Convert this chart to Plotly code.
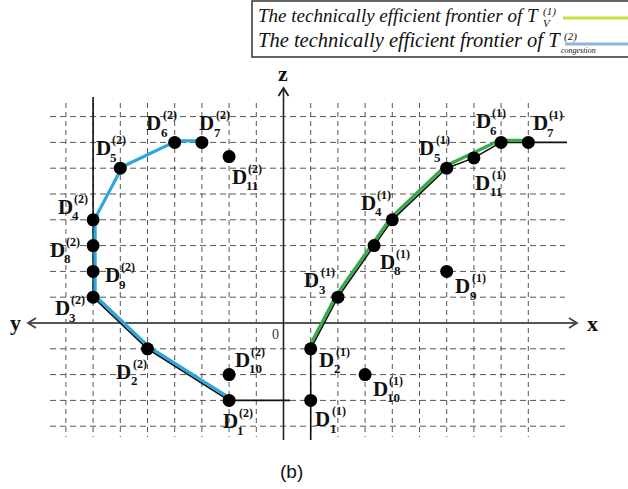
import plotly.graph_objects as go

# ---------------- data ----------------
dmu_ids = ["1", "2", "3", "4", "5", "6", "7", "8", "9", "10", "11"]

# Technology T_V^(1): DMUs in the (x, z) half-plane
t1_x = [1, 1, 2, 4, 6, 8, 9, 3.33, 6, 3, 7]
t1_z = [-3, -1, 1, 4, 6, 7, 7, 3, 2, -2, 6.4]

# Technology T_congestion^(2): DMUs in the (y, z) half-plane (y points left)
t2_y = [2, 5, 7, 7, 6, 4, 3, 7, 7, 2, 2]
t2_z = [-3, -1, 1, 4, 6, 7, 7, 3, 2, -2, 6.45]

# DMU order along each frontier
front1_colored = ["2", "3", "8", "4", "5", "6", "7"]
front1_black = ["2", "3", "8", "4", "5", "11", "6", "7"]
front2_colored = ["1", "2", "3", "9", "8", "4", "5", "6", "7"]
front2_black = ["3", "2", "1"]

grid_u = list(range(-8, 10))   # vertical dashed lines
grid_v = list(range(-4, 9))    # horizontal dashed lines

legend_text = "The technically efficient frontier of T"

# ---------------- geometry ----------------
W, H = 628, 489
SX, SY = 27.2, 25.8          # pixels per grid step
OX, OY = 283.5, 323.0        # origin in pixels
XR = [-OX / SX, (W - OX) / SX]
YR = [(OY - H) / SY, OY / SY]


def pu(px):
    return (px - OX) / SX


def pv(py):
    return (OY - py) / SY


def paper(px, py):
    return px / W, 1 - py / H


P1 = {k: (x, z) for k, x, z in zip(dmu_ids, t1_x, t1_z)}
P2 = {k: (-y, z) for k, y, z in zip(dmu_ids, t2_y, t2_z)}

BLUE = "#2aa7de"
GREEN = "#38a94a"
SERIF = "Liberation Serif"

fig = go.Figure()

# dashed grid
shapes = []
for u in grid_u:
    if u == 0:
        continue
    shapes.append(dict(type="line", x0=u, x1=u, y0=pv(103), y1=pv(437),
                       line=dict(color="#555", width=1, dash="5px,4px"), layer="below"))
for v in grid_v:
    if v == 0:
        continue
    shapes.append(dict(type="line", x0=pu(50), x1=pu(565), y0=v, y1=v,
                       line=dict(color="#555", width=1, dash="6px,4px"), layer="below"))


def seg(x0, y0, x1, y1, color="#111", width=1.6):
    fig.add_trace(go.Scatter(x=[x0, x1], y=[y0, y1], mode="lines",
                             line=dict(color=color, width=width),
                             hoverinfo="skip", showlegend=False))


# axes: horizontal x / y axis with arrows at both ends, vertical z axis
seg(pu(28), 0, pu(577), 0, color="#555", width=2)
seg(0, pv(440), 0, pv(88), color="#222", width=1.6)


def chevron(tx, ty, dx, dy, color):
    # open arrow head with tip at (tx, ty) pointing along (dx, dy) in pixels
    import math
    n = math.hypot(dx, dy)
    ux, uy = dx / n, dy / n
    L, Wd = 8, 5
    bx, by = tx - ux * L, ty - uy * L
    px_, py_ = -uy * Wd, ux * Wd
    fig.add_trace(go.Scatter(
        x=[pu(bx + px_), pu(tx), pu(bx - px_)],
        y=[pv(by + py_), pv(ty), pv(by - py_)],
        mode="lines", line=dict(color=color, width=1.8),
        hoverinfo="skip", showlegend=False))


chevron(577, OY, 1, 0, "#444")
chevron(28, OY, -1, 0, "#444")
chevron(OX, 88, 0, -1, "#222")

# black reference lines
k2 = front2_black
fig.add_trace(go.Scatter(
    x=[P2["4"][0], P2["4"][0]] + [P2[k][0] for k in k2] + [pu(290)],
    y=[pv(97), P2["4"][1]] + [P2[k][1] for k in k2] + [P2["1"][1]],
    mode="lines", line=dict(color="#111", width=1.6),
    hoverinfo="skip", showlegend=False))
fig.add_trace(go.Scatter(
    x=[P1["2"][0]] + [P1[k][0] for k in front1_black] + [pu(567)],
    y=[pv(440)] + [P1[k][1] for k in front1_black] + [P1["7"][1]],
    mode="lines", line=dict(color="#111", width=1.6),
    hoverinfo="skip", showlegend=False))

# coloured frontiers, nudged a couple of pixels off the black lines
fig.add_trace(go.Scatter(
    x=[P2[k][0] + 2 / SX for k in front2_colored],
    y=[P2[k][1] + 1.5 / SY for k in front2_colored],
    mode="lines", line=dict(color=BLUE, width=3.2),
    hoverinfo="skip", showlegend=False))
fig.add_trace(go.Scatter(
    x=[P1[k][0] - 1.5 / SX for k in front1_colored],
    y=[P1[k][1] + 2 / SY for k in front1_colored],
    mode="lines", line=dict(color=GREEN, width=3.2),
    hoverinfo="skip", showlegend=False))

# DMU markers
fig.add_trace(go.Scatter(
    x=[P1[k][0] for k in dmu_ids] + [P2[k][0] for k in dmu_ids],
    y=[P1[k][1] for k in dmu_ids] + [P2[k][1] for k in dmu_ids],
    mode="markers", marker=dict(color="black", size=13),
    hoverinfo="skip", showlegend=False))

# label offsets (pixels, right / down) of the "D" glyph relative to its point
off1 = {"1": (12, 19), "2": (16, 11), "3": (-26, -17), "4": (-24, -17),
        "5": (-20, -20), "6": (-18, -21), "7": (12, -19), "8": (13, 16),
        "9": (16, 15), "10": (15, 14), "11": (9, 25)}
off2 = {"1": (1, 21), "2": (-24, 23), "3": (-31, 11), "4": (-28, -13),
        "5": (-17, -20), "6": (-21, -19), "7": (5, -19), "8": (-36, 4),
        "9": (19, 4), "10": (13, -15), "11": (10, 20)}

ann = []


def dlabel(pt, off, sup, sub):
    x, y = pt
    dx, dy = off
    ann.append(dict(x=x, y=y, xshift=dx, yshift=-dy, text="<b>D</b>",
                    showarrow=False, xanchor="center", yanchor="middle",
                    font=dict(family=SERIF, size=21, color="#111")))
    ann.append(dict(x=x, y=y, xshift=dx + 7, yshift=-(dy - 8), text="<b>(%s)</b>" % sup,
                    showarrow=False, xanchor="left", yanchor="middle",
                    font=dict(family=SERIF, size=12, color="#111")))
    ann.append(dict(x=x, y=y, xshift=dx + 5, yshift=-(dy + 9), text="<b>%s</b>" % sub,
                    showarrow=False, xanchor="left", yanchor="middle",
                    font=dict(family=SERIF, size=13, color="#111")))


for k in dmu_ids:
    dlabel(P1[k], off1[k], "1", k)
    dlabel(P2[k], off2[k], "2", k)

# axis names and origin
for txt, px, py in [("x", 592, 323), ("y", 15, 322), ("z", 283, 73)]:
    ann.append(dict(x=pu(px), y=pv(py), text="<b>%s</b>" % txt, showarrow=False,
                    xanchor="center", yanchor="middle",
                    font=dict(family=SERIF, size=22, color="#111")))
ann.append(dict(x=pu(275), y=pv(334), text="0", showarrow=False,
                font=dict(family=SERIF, size=14, color="#333")))

# legend box
x0, y0 = paper(252, 1)
x1, y1 = paper(640, 57)
shapes.append(dict(type="rect", xref="paper", yref="paper", x0=x0, x1=x1, y0=y1, y1=y0,
                   line=dict(color="#333", width=1.5), fillcolor="white", layer="above"))
for (sx0, sx1, sy, col) in [(563, 628, 18, "#c6e23a"), (565, 628, 44, "#8cb6dc")]:
    a0, b0 = paper(sx0, sy)
    a1, _ = paper(sx1, sy)
    shapes.append(dict(type="line", xref="paper", yref="paper", x0=a0, x1=a1, y0=b0, y1=b0,
                       line=dict(color=col, width=3), layer="above"))


def ptext(px, py, text, size, xanchor="left", family=SERIF, color="#111"):
    a, b = paper(px, py)
    ann.append(dict(xref="paper", yref="paper", x=a, y=b, text=text, showarrow=False,
                    xanchor=xanchor, yanchor="middle",
                    font=dict(family=family, size=size, color=color)))


ptext(541, 16, "<i>%s</i>" % legend_text, 19, xanchor="right")
ptext(541, 11, "<i>(1)</i>", 11)
ptext(541, 23, "<i>V</i>", 11)
ptext(563, 40, "<i>%s</i>" % legend_text, 20.5, xanchor="right")
ptext(562, 36, "<i>(2)</i>", 11)
ptext(559, 51, "<i>congestion</i>", 8)

ptext(291, 471, "(b)", 19, xanchor="center", family="Liberation Sans")

fig.update_layout(
    width=W, height=H, margin=dict(l=0, r=0, t=0, b=0),
    paper_bgcolor="white", plot_bgcolor="white",
    xaxis=dict(range=XR, visible=False, fixedrange=True),
    yaxis=dict(range=YR, visible=False, fixedrange=True),
    shapes=shapes, annotations=ann, showlegend=False,
)

fig.write_html("out.html")
